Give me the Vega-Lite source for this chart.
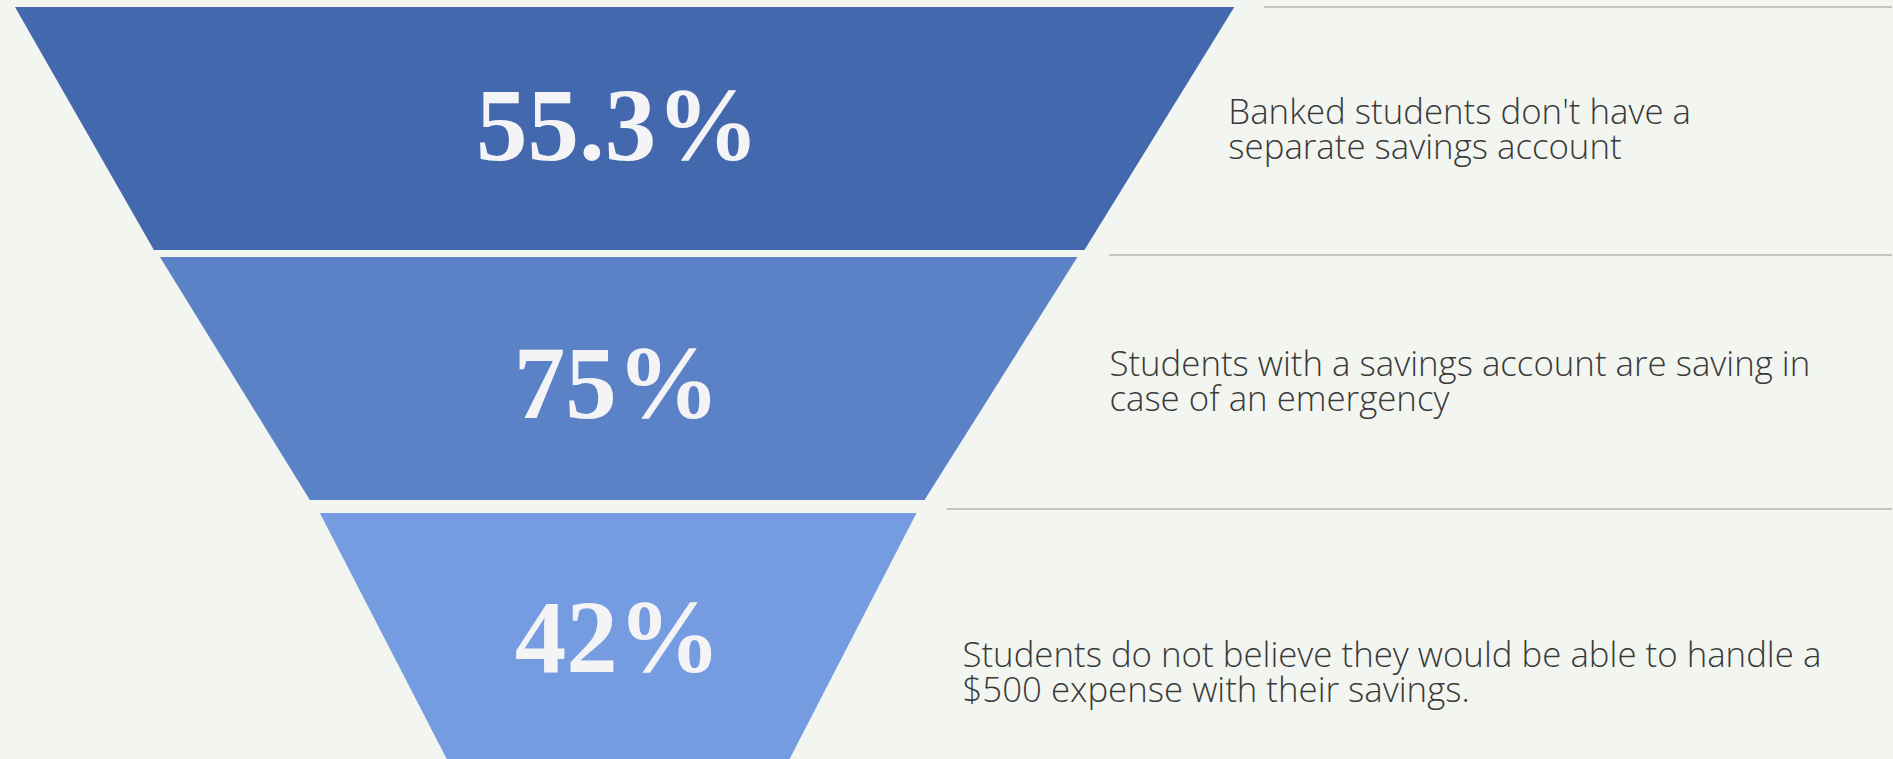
{
  "$schema": "https://vega.github.io/schema/vega-lite/v6.json",
  "width": 1893,
  "height": 759,
  "autosize": {"type": "fit", "contains": "padding"},
  "padding": 0,
  "background": "#f2f5f0",
  "config": {"view": {"stroke": null}},
  "datasets": {
    "funnel": [
      {"stage": "A", "y": 7, "left": 15, "right": 1235},
      {"stage": "A", "y": 250, "left": 154, "right": 1085},
      {"stage": "B", "y": 257, "left": 160, "right": 1078},
      {"stage": "B", "y": 500, "left": 310, "right": 925},
      {"stage": "C", "y": 513, "left": 320, "right": 917},
      {"stage": "C", "y": 759, "left": 447, "right": 790}
    ],
    "separators": [
      {"y": 7, "start": 1265, "end": 1893},
      {"y": 255, "start": 1110, "end": 1893},
      {"y": 509, "start": 947, "end": 1893}
    ],
    "values": [
      {"stage": "A", "label": "55.3%", "x": 618, "y": 160},
      {"stage": "B", "label": "75%", "x": 617, "y": 418},
      {"stage": "C", "label": "42%", "x": 618, "y": 672}
    ],
    "notes": [
      {"stage": "A", "x": 1229, "y": 124, "note": "Banked students don't have a\nseparate savings account"},
      {"stage": "B", "x": 1110, "y": 376, "note": "Students with a savings account are saving in\ncase of an emergency"},
      {"stage": "C", "x": 963, "y": 667, "note": "Students do not believe they would be able to handle a\n$500 expense with their savings."}
    ]
  },
  "layer": [
    {
      "data": {"name": "funnel"},
      "mark": {"type": "area", "orient": "horizontal"},
      "encoding": {
        "y": {"field": "y", "type": "quantitative", "axis": null, "scale": {"domain": [0, 759], "reverse": true, "nice": false, "zero": false}},
        "x": {"field": "left", "type": "quantitative", "axis": null, "scale": {"domain": [0, 1893], "nice": false, "zero": false}},
        "x2": {"field": "right"},
        "color": {"field": "stage", "type": "nominal", "legend": null, "scale": {"domain": ["A", "B", "C"], "range": ["#4468ae", "#5b81c7", "#759ce0"]}}
      }
    },
    {
      "data": {"name": "separators"},
      "mark": {"type": "rule", "color": "#c2c4c0", "strokeWidth": 2},
      "encoding": {
        "y": {"field": "y", "type": "quantitative"},
        "x": {"field": "start", "type": "quantitative"},
        "x2": {"field": "end"}
      }
    },
    {
      "data": {"name": "values"},
      "mark": {"type": "text", "font": "Liberation Serif", "fontWeight": "bold", "fontSize": 103, "align": "center", "baseline": "alphabetic", "color": "#f4f4f6"},
      "encoding": {
        "x": {"field": "x", "type": "quantitative"},
        "y": {"field": "y", "type": "quantitative"},
        "text": {"field": "label"}
      }
    },
    {
      "data": {"name": "notes"},
      "mark": {"type": "text", "font": "Open Sans", "fontWeight": 300, "fontSize": 34.8, "align": "left", "baseline": "alphabetic", "lineBreak": "\n", "lineHeight": 35, "color": "#3a3a3a"},
      "encoding": {
        "x": {"field": "x", "type": "quantitative"},
        "y": {"field": "y", "type": "quantitative"},
        "text": {"field": "note"}
      }
    }
  ]
}
